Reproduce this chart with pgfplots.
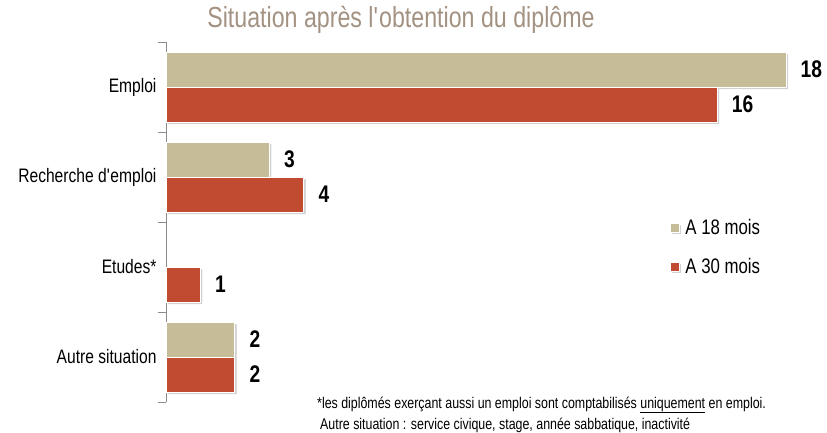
\documentclass[border=0pt]{standalone}
\usepackage{pgfplots}
\pgfplotsset{compat=1.18}
\usepackage{fontspec}
\setmainfont{Liberation Sans}[FakeStretch=0.8]
\usetikzlibrary{shadows}
\definecolor{tanc}{HTML}{C6BD98}
\definecolor{brick}{HTML}{C04B30}
\definecolor{titlec}{HTML}{A39282}
\definecolor{axc}{HTML}{8C8C8C}
\begin{document}
\begin{tikzpicture}
\useasboundingbox (0pt,0pt) rectangle (827pt,432pt);
\begin{axis}[
  at={(166pt,30pt)}, anchor=south west,
  scale only axis, width=620pt, height=360pt,
  xmin=0, xmax=18, ymin=-0.5, ymax=3.5,
  xbar, bar width=35pt,
  clip=false,
  hide x axis,
  axis y line*=left,
  y axis line style={draw=axc, line width=1pt},
  ytick={0,1,2,3},
  yticklabels={Autre situation, Etudes*, Recherche d\textquotesingle emploi, Emploi},
  major tick length=0pt,
  minor ytick={-0.5,0.5,1.5,2.5,3.5},
  minor tick length=8pt,
  tick align=outside,
  minor tick style={draw=axc, line width=1pt},
  y tick label style={font=\fontsize{19.5}{19.5}\selectfont, xshift=-6pt},
  /pgf/number format/assume math mode=true,
  nodes near coords,
  point meta=x,
  nodes near coords style={anchor=west, xshift=11pt, font=\bfseries\fontsize{24}{24}\selectfont, text=black},
  title={Situation après l\textquotesingle obtention du diplôme},
  title style={at={(rel axis cs:0.379,1)}, anchor=base, yshift=9pt, font=\fontsize{29}{29}\selectfont, text=titlec},
  legend style={at={(rel axis cs:0.812,0.43)}, anchor=west, draw=none, fill=none, font=\fontsize{21}{21}\selectfont, row sep=18pt, inner sep=0pt},
  legend cell align=left,
  legend image code/.code={\fill[#1] (0pt,-4.5pt) rectangle (9pt,4.5pt); \path (13pt,0pt);},
]
\addplot[fill=tanc, draw=white, line width=0.8pt, bar shift=17.5pt,
  drop shadow={shadow xshift=2pt, shadow yshift=-2pt, opacity=0.18, fill=black}]
  coordinates {(18,3) (3,2) (2,0)};
\addlegendentry{A 18 mois}
\addplot[fill=brick, draw=white, line width=0.8pt, bar shift=-17.5pt,
  drop shadow={shadow xshift=2pt, shadow yshift=-2pt, opacity=0.18, fill=black}]
  coordinates {(16,3) (4,2) (1,1) (2,0)};
\addlegendentry{A 30 mois}
\end{axis}
\node[anchor=base west, font=\fontsize{15.5}{15.5}\selectfont, inner sep=0pt] at (317pt,24pt) {*les diplômés exerçant aussi un emploi sont comptabilisés \underline{uniquement} en emploi.};
\node[anchor=base west, font=\fontsize{15.5}{15.5}\selectfont, inner sep=0pt] at (320pt,3pt) {Autre situation : service civique, stage, année sabbatique, inactivité};
\end{tikzpicture}
\end{document}
